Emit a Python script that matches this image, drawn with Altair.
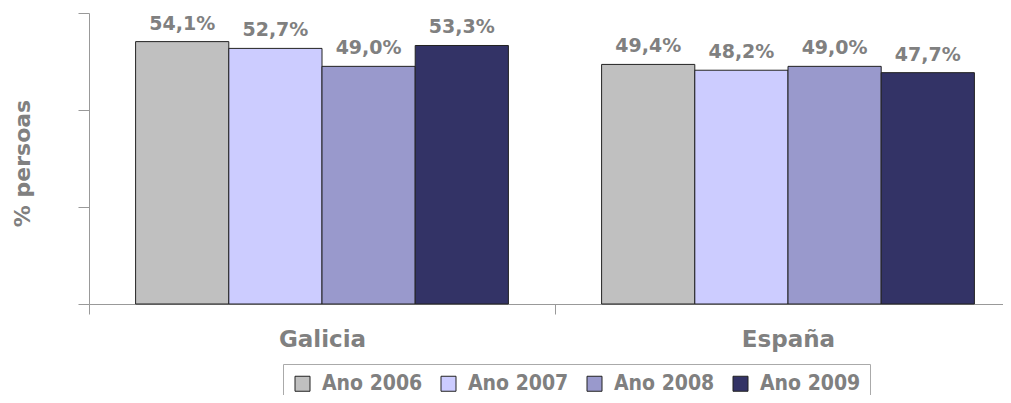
import altair as alt
import pandas as pd

regions = ["Galicia", "España"]
years = ["Ano 2006", "Ano 2007", "Ano 2008", "Ano 2009"]
galicia = [54.1, 52.7, 49.0, 53.3]
espana = [49.4, 48.2, 49.0, 47.7]
colors = ["#C0C0C0", "#CCCCFF", "#9999CC", "#333366"]

rows = []
for reg, vals in zip(regions, [galicia, espana]):
    for yr, v in zip(years, vals):
        rows.append({"region": reg, "year": yr, "value": v,
                     "label": f"{v:.1f}".replace(".", ",") + "%"})
df = pd.DataFrame(rows)

FONT = "DejaVu Sans"
LEGEND_FONT = "DejaVu Sans Condensed, DejaVu Sans"
GRAY = "#808080"

base = alt.Chart(df).encode(
    x=alt.X("region:N", sort=regions, title=None,
            scale=alt.Scale(paddingInner=0, paddingOuter=0, range=[0, 932]),
            axis=alt.Axis(tickBand="extent", tickSize=10, domainColor="#999999",
                          tickColor="#999999", labelFont=FONT, labelFontSize=23,
                          labelFontWeight="bold", labelColor=GRAY, labelPadding=14,
                          labelAngle=0)),
    xOffset=alt.XOffset("year:N", sort=years,
                        scale=alt.Scale(paddingInner=0, paddingOuter=0.5)),
    y=alt.Y("value:Q", scale=alt.Scale(domain=[0, 60]), title="% persoas",
            axis=alt.Axis(values=[0, 20, 40, 60], labels=False, tickSize=11,
                          domainColor="#999999", tickColor="#999999", grid=False,
                          titleFont=FONT, titleFontSize=22, titleFontWeight="bold",
                          titleColor=GRAY, titleAngle=-90, titleX=-67, titleY=150,
                          titleAlign="center", titleBaseline="middle")),
)

bars = base.mark_bar(stroke="#222222", strokeWidth=1).encode(
    color=alt.Color("year:N", sort=years,
                    scale=alt.Scale(domain=years, range=colors),
                    legend=alt.Legend(title=None, orient="none", direction="horizontal",
                                      legendX=194, legendY=351, symbolType="square",
                                      symbolSize=225, symbolStrokeColor="#222222",
                                      symbolStrokeWidth=1, labelFont=LEGEND_FONT,
                                      labelFontSize=21, labelFontWeight="bold",
                                      labelColor=GRAY, strokeColor="#AAAAAA",
                                      padding=9, columnPadding=15, labelOffset=9,
                                      fillColor="white"))
)

labels = base.mark_text(dy=-12, baseline="alphabetic", font=FONT, fontSize=19,
                        fontWeight="bold", color=GRAY).encode(text="label:N")

chart = alt.layer(bars, labels).properties(
    width=914, height=291,
    autosize=alt.AutoSizeParams(type="none"),
    padding={"left": 81, "top": 5, "right": 0, "bottom": 91},
).configure_view(stroke=None)

chart.save("out.html", embed_options={"renderer": "svg", "actions": False})
